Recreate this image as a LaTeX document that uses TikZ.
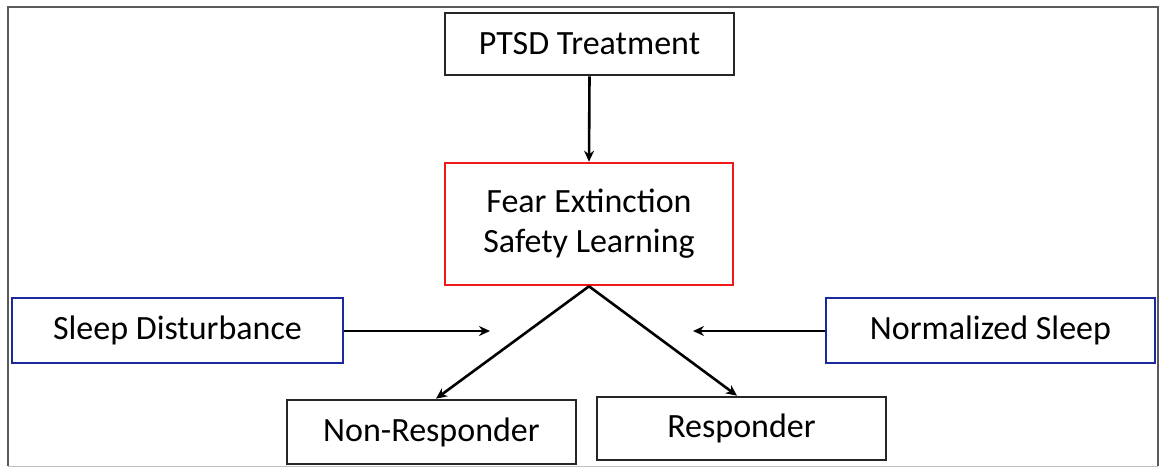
\documentclass[tikz,border=0pt]{standalone}
\usepackage{fontspec}
\setmainfont{Carlito}
\usetikzlibrary{arrows.meta}
\definecolor{boxred}{HTML}{F01818}
\definecolor{boxblue}{HTML}{1A2A9C}
\definecolor{framegray}{HTML}{5A5A5A}
\begin{document}
\begin{tikzpicture}[x=1pt,y=-1pt,
  box/.style={draw=black!85,line width=2.6pt,minimum height=62pt,
    font=\fontsize{34}{40}\selectfont,align=center,inner sep=0pt},
  redbox/.style={box,draw=boxred},
  bluebox/.style={box,draw=boxblue},
  link/.style={line width=2.6pt,-{Stealth[length=11pt,width=10pt]}}]
\useasboundingbox (0,0) rectangle (1159,468);
\fill[white] (0,0) rectangle (1159,468);
% outer frame
\draw[framegray,line width=1.8pt] (8,466) -- (8,7) -- (1158,7) -- (1158,466);
\draw[black!25,line width=1pt] (8,466) -- (1158,466);

\node[box,minimum width=289pt] (ptsd) at (589.5,44) {PTSD Treatment};
\node[redbox,minimum width=288pt,minimum height=122pt] (fear) at (589,224)
  {Fear Extinction\\Safety Learning};
\node[bluebox,minimum width=331pt,minimum height=65pt] (sleep) at (177.5,330.5) {Sleep Disturbance};
\node[bluebox,minimum width=329pt,minimum height=65pt] (norm) at (990.5,330.5) {Normalized Sleep};
\node[box,minimum width=289pt,minimum height=64pt] (nonr) at (431.5,432) {Non-Responder};
\node[box,minimum width=289pt,minimum height=63pt] (resp) at (741.5,428.5) {Responder};

\coordinate (lend) at (490,331);
\coordinate (rend) at (693,331);

\draw[link] (ptsd.south) -- (fear.north);
\draw[link] (fear.south) -- (nonr.north -| 436,0);
\draw[link] (fear.south) -- (resp.north -| 737,0);
\draw[link] (sleep.east |- lend) -- (lend);
\draw[link] (norm.west |- rend) -- (rend);
\end{tikzpicture}
\end{document}
